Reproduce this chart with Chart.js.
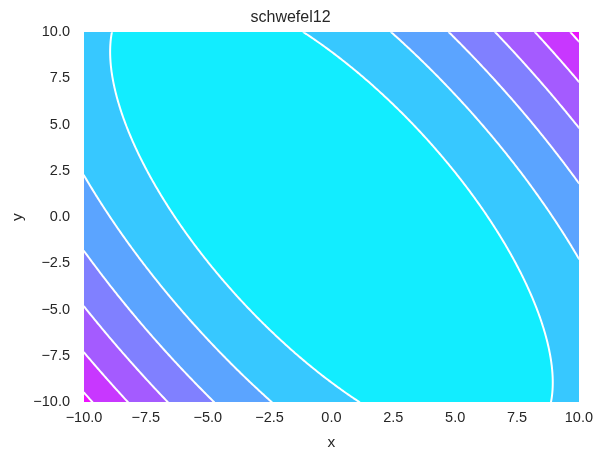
<!DOCTYPE html>
<html>
<head>
<meta charset="utf-8">
<script src="https://cdn.jsdelivr.net/npm/chart.js@4/dist/chart.umd.min.js"></script>
<style>
  html, body { margin: 0; padding: 0; background: #ffffff; }
  #wrap { width: 600px; height: 452px; position: relative; }
</style>
</head>
<body>
<div id="wrap"><canvas id="chart"></canvas></div>
<script>
// schwefel 1.2 surface, 2 dims: f(x, y) = x^2 + (x + y)^2
function schwefel12(x, y){
    return x * x + (x + y) * (x + y);
}

const xRange = [-10, 10];
const yRange = [-10, 10];
const gridSize = 200;                       // samples per axis for the contour lines
const levels = [0, 80, 160, 240, 320, 400, 480, 560];
const bandColors = ["#12edff", "#37c8ff", "#5ba4ff", "#8080ff", "#a45bff", "#c837ff", "#ed12ff"];
const tickValues = [-10, -7.5, -5, -2.5, 0, 2.5, 5, 7.5, 10];

const textColor = "#262626";
const fontFamily = "'Liberation Sans', Arial, sans-serif";

function fmt(v){
    return v.toFixed(1).replace("-", "\u2212");
}

function hexToRgb(h){
    return [parseInt(h.substr(1, 2), 16), parseInt(h.substr(3, 2), 16), parseInt(h.substr(5, 2), 16)];
}
const bandRgb = bandColors.map(hexToRgb);

function bandOf(v){
    for(let i = 0; i < levels.length - 1; i++){
        if(v < levels[i + 1]) return i;
    }
    return levels.length - 2;
}

// filled bands + white contour lines, placed through the chart scales
const contourPlugin = {
    id: "contour",
    beforeDatasetsDraw(chart){
        const ctx = chart.ctx;
        const xs = chart.scales.x, ys = chart.scales.y;
        const area = chart.chartArea;
        const w = Math.round(area.right - area.left);
        const h = Math.round(area.bottom - area.top);
        const off = document.createElement("canvas");
        off.width = w; off.height = h;
        const octx = off.getContext("2d");
        const img = octx.createImageData(w, h);
        for(let j = 0; j < h; j++){
            const yv = ys.getValueForPixel(area.top + j + 0.5);
            for(let i = 0; i < w; i++){
                const xv = xs.getValueForPixel(area.left + i + 0.5);
                const c = bandRgb[bandOf(schwefel12(xv, yv))];
                const k = (j * w + i) * 4;
                img.data[k] = c[0]; img.data[k + 1] = c[1]; img.data[k + 2] = c[2]; img.data[k + 3] = 255;
            }
        }
        octx.putImageData(img, 0, 0);
        ctx.save();
        ctx.drawImage(off, area.left, area.top);

        // marching squares for the contour lines
        const n = gridSize;
        const gx = [], gy = [];
        for(let i = 0; i <= n; i++){
            gx.push(xRange[0] + (xRange[1] - xRange[0]) * i / n);
            gy.push(yRange[0] + (yRange[1] - yRange[0]) * i / n);
        }
        const z = [];
        for(let j = 0; j <= n; j++){
            const row = [];
            for(let i = 0; i <= n; i++) row.push(schwefel12(gx[i], gy[j]));
            z.push(row);
        }
        ctx.beginPath();
        ctx.rect(area.left, area.top, area.right - area.left, area.bottom - area.top);
        ctx.clip();
        ctx.strokeStyle = "#ffffff";
        ctx.lineWidth = 2;
        ctx.lineCap = "round";
        ctx.beginPath();
        for(const lv of levels.slice(1, -1)){
            for(let j = 0; j < n; j++){
                for(let i = 0; i < n; i++){
                    const v0 = z[j][i], v1 = z[j][i + 1], v2 = z[j + 1][i + 1], v3 = z[j + 1][i];
                    const pts = [];
                    const edge = (a, b, xa, ya, xb, yb) => {
                        if((a < lv) !== (b < lv)){
                            const t = (lv - a) / (b - a);
                            pts.push([xa + (xb - xa) * t, ya + (yb - ya) * t]);
                        }
                    };
                    edge(v0, v1, gx[i], gy[j], gx[i + 1], gy[j]);
                    edge(v1, v2, gx[i + 1], gy[j], gx[i + 1], gy[j + 1]);
                    edge(v2, v3, gx[i + 1], gy[j + 1], gx[i], gy[j + 1]);
                    edge(v3, v0, gx[i], gy[j + 1], gx[i], gy[j]);
                    for(let p = 0; p + 1 < pts.length; p += 2){
                        ctx.moveTo(xs.getPixelForValue(pts[p][0]), ys.getPixelForValue(pts[p][1]));
                        ctx.lineTo(xs.getPixelForValue(pts[p + 1][0]), ys.getPixelForValue(pts[p + 1][1]));
                    }
                }
            }
        }
        ctx.stroke();
        ctx.restore();
    }
};

new Chart(document.getElementById("chart"), {
    type: "scatter",
    data: { datasets: [{ data: [], pointRadius: 0 }] },
    options: {
        responsive: true,
        maintainAspectRatio: false,
        animation: false,
        layout: { padding: { left: 0, right: 19, top: 0, bottom: 0 } },
        plugins: {
            legend: { display: false },
            tooltip: { enabled: false },
            title: {
                display: true,
                text: "schwefel12",
                color: textColor,
                font: { family: fontFamily, size: 16, weight: "normal" },
                padding: { top: 8, bottom: 5 }
            }
        },
        scales: {
            x: {
                type: "linear",
                min: xRange[0], max: xRange[1],
                afterBuildTicks(axis){ axis.ticks = tickValues.map(v => ({ value: v })); },
                afterFit(axis){ axis.height = 50; },
                grid: { display: false, drawTicks: false },
                border: { display: false },
                ticks: {
                    color: textColor, padding: 7,
                    font: { family: fontFamily, size: 14.5 },
                    maxRotation: 0, autoSkip: false,
                    callback: v => fmt(v)
                },
                title: {
                    display: true, text: "x", color: textColor,
                    font: { family: fontFamily, size: 15.5 },
                    padding: { top: 5, bottom: 0 }
                }
            },
            y: {
                type: "linear",
                min: yRange[0], max: yRange[1],
                afterBuildTicks(axis){ axis.ticks = tickValues.map(v => ({ value: v })); },
                afterFit(axis){ axis.width = 84; },
                grid: { display: false, drawTicks: false },
                border: { display: false },
                ticks: {
                    color: textColor, padding: 14,
                    font: { family: fontFamily, size: 14.5 },
                    autoSkip: false,
                    callback: v => fmt(v)
                },
                title: {
                    display: true, text: "y", color: textColor,
                    font: { family: fontFamily, size: 15.5 },
                    padding: { top: 8, bottom: 2 }
                }
            }
        }
    },
    plugins: [contourPlugin]
});
</script>
</body>
</html>
